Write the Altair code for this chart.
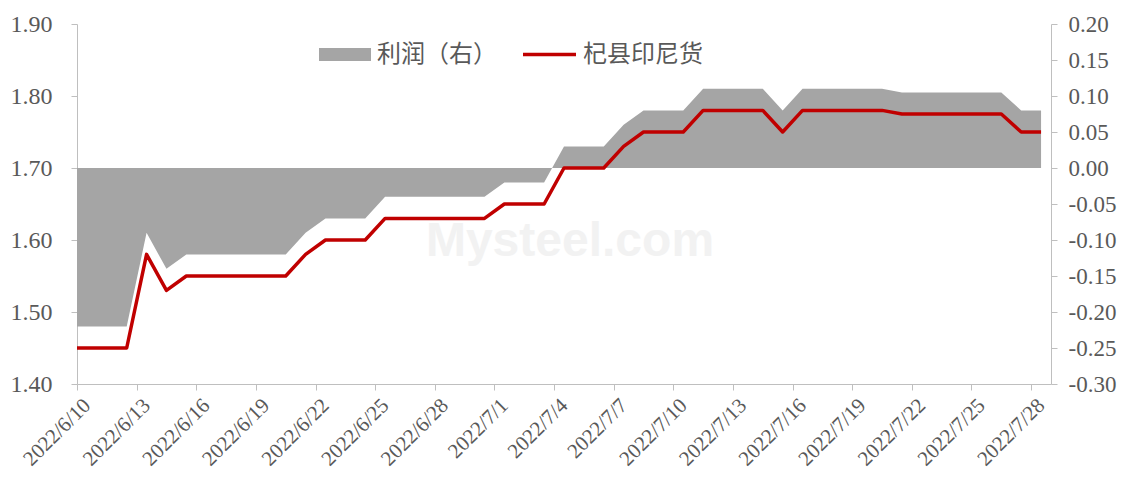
import altair as alt
import pandas as pd

# ---- data ----
dates = [
    "2022/6/9",
    "2022/6/10", "2022/6/11", "2022/6/12", "2022/6/13", "2022/6/14", "2022/6/15",
    "2022/6/16", "2022/6/17", "2022/6/18", "2022/6/19", "2022/6/20", "2022/6/21",
    "2022/6/22", "2022/6/23", "2022/6/24", "2022/6/25", "2022/6/26", "2022/6/27",
    "2022/6/28", "2022/6/29", "2022/6/30",
    "2022/7/1", "2022/7/2", "2022/7/3", "2022/7/4", "2022/7/5", "2022/7/6",
    "2022/7/7", "2022/7/8", "2022/7/9", "2022/7/10", "2022/7/11", "2022/7/12",
    "2022/7/13", "2022/7/14", "2022/7/15", "2022/7/16", "2022/7/17", "2022/7/18",
    "2022/7/19", "2022/7/20", "2022/7/21", "2022/7/22", "2022/7/23", "2022/7/24",
    "2022/7/25", "2022/7/26", "2022/7/27", "2022/7/28",
]

# 杞县印尼货 (left axis)
price = [
    1.45,
    1.45, 1.45, 1.45, 1.58, 1.53, 1.55,
    1.55, 1.55, 1.55, 1.55, 1.55, 1.58,
    1.60, 1.60, 1.60, 1.63, 1.63, 1.63,
    1.63, 1.63, 1.63,
    1.65, 1.65, 1.65, 1.70, 1.70, 1.70,
    1.73, 1.75, 1.75, 1.75, 1.78, 1.78,
    1.78, 1.78, 1.75, 1.78, 1.78, 1.78,
    1.78, 1.78, 1.775, 1.775, 1.775, 1.775,
    1.775, 1.775, 1.75, 1.75,
]

# 利润 (right axis)
profit = [
    -0.22,
    -0.22, -0.22, -0.22, -0.09, -0.14, -0.12,
    -0.12, -0.12, -0.12, -0.12, -0.12, -0.09,
    -0.07, -0.07, -0.07, -0.04, -0.04, -0.04,
    -0.04, -0.04, -0.04,
    -0.02, -0.02, -0.02, 0.03, 0.03, 0.03,
    0.06, 0.08, 0.08, 0.08, 0.11, 0.11,
    0.11, 0.11, 0.08, 0.11, 0.11, 0.11,
    0.11, 0.11, 0.105, 0.105, 0.105, 0.105,
    0.105, 0.105, 0.08, 0.08,
]

tick_labels = ["2022/6/10", "2022/6/13", "2022/6/16", "2022/6/19", "2022/6/22",
               "2022/6/25", "2022/6/28", "2022/7/1", "2022/7/4", "2022/7/7",
               "2022/7/10", "2022/7/13", "2022/7/16", "2022/7/19", "2022/7/22",
               "2022/7/25", "2022/7/28"]
left_ticks = [1.40, 1.50, 1.60, 1.70, 1.80, 1.90]
right_ticks = [-0.30, -0.25, -0.20, -0.15, -0.10, -0.05, 0.00, 0.05, 0.10, 0.15, 0.20]
series_names = ["利润（右）", "杞县印尼货"]

# ---- table ----
df = pd.DataFrame({"date": dates, "price": price, "profit": profit})
df["pos"] = [i - 0.5 for i in range(len(dates))]  # category centres
df["zero"] = 0.0

GREY = "#A5A5A5"
RED = "#C00000"
TXT = "#595959"
AX = "#BFBFBF"
SERIF = "Liberation Serif"
CJK = "Noto Sans CJK SC"

label_expr = "[" + ",".join("'%s'" % d for d in tick_labels) + "][round(datum.value/3)]"
minus_fix = "replace(format(datum.value, '.2f'), '\u2212', '-')"

x_enc = alt.X(
    "pos:Q",
    scale=alt.Scale(domain=[0, 49], nice=False, zero=False),
    axis=alt.Axis(
        values=list(range(0, 49, 3)),
        labelExpr=label_expr,
        labelAngle=-45,
        labelAlign="right",
        labelBaseline="middle",
        labelOffset=10,
        labelPadding=12,
        labelFont=SERIF,
        labelFontSize=21,
        labelColor=TXT,
        labelOverlap=False,
        labelBound=False,
        labelFlush=False,
        domainColor=AX,
        tickColor=AX,
        tickSize=6,
        grid=False,
        title=None,
    ),
)

area = alt.Chart(df).mark_area(color=GREY, opacity=1, clip=True).encode(
    x=x_enc,
    y=alt.Y(
        "profit:Q",
        scale=alt.Scale(domain=[-0.3, 0.2], nice=False, zero=False),
        axis=alt.Axis(
            orient="right",
            values=right_ticks,
            labelExpr=minus_fix,
            labelFont=SERIF,
            labelFontSize=23,
            labelColor=TXT,
            labelPadding=11,
            domainColor=AX,
            tickColor=AX,
            tickSize=6,
            grid=False,
            title=None,
        ),
    ),
    y2="zero:Q",
)

line = alt.Chart(df).mark_line(color=RED, strokeWidth=3.5, clip=True, strokeJoin="round").encode(
    x=x_enc,
    y=alt.Y(
        "price:Q",
        scale=alt.Scale(domain=[1.4, 1.9], nice=False, zero=False),
        axis=alt.Axis(
            orient="left",
            values=left_ticks,
            format=".2f",
            labelFont=SERIF,
            labelFontSize=24,
            labelColor=TXT,
            labelPadding=19,
            domainColor=AX,
            tickColor=AX,
            tickSize=6,
            grid=False,
            title=None,
        ),
    ),
)

one = pd.DataFrame({"a": [0]})

watermark = alt.Chart(one).mark_text(
    text="Mysteel.com", font="Liberation Sans", fontSize=48, fontWeight="bold",
    color="#E6E6E6", opacity=0.5, align="center", baseline="middle",
).encode(x=alt.value(493), y=alt.value(218))

leg_rect = alt.Chart(one).mark_rect(color=GREY).encode(
    x=alt.value(242), x2=alt.value(294), y=alt.value(24), y2=alt.value(37)
)
leg_rule = alt.Chart(one).mark_rule(color=RED, strokeWidth=3.5).encode(
    x=alt.value(446), x2=alt.value(499), y=alt.value(30.5)
)
leg_t1 = alt.Chart(one).mark_text(
    text=series_names[0], font=CJK, fontSize=24, color=TXT, align="left", baseline="middle"
).encode(x=alt.value(300), y=alt.value(30.5))
leg_t2 = alt.Chart(one).mark_text(
    text=series_names[1], font=CJK, fontSize=24, color=TXT, align="left", baseline="middle"
).encode(x=alt.value(506), y=alt.value(30.5))

chart = (
    alt.layer(area, line, watermark, leg_rect, leg_rule, leg_t1, leg_t2)
    .resolve_scale(y="independent")
    .properties(
        width=974,
        height=360,
        autosize=alt.AutoSizeParams(type="none"),
        padding={"left": 69, "top": 16, "right": 66, "bottom": 91},
        background="white",
    )
    .configure_view(stroke=None)
)

chart.save("out.html", embed_options={"renderer": "svg", "actions": False})
